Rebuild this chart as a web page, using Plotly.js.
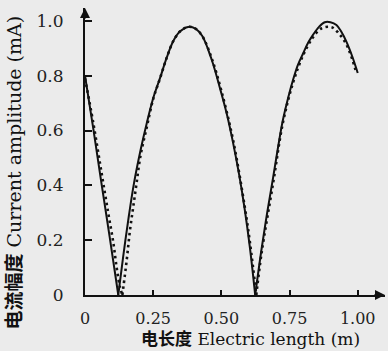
<!DOCTYPE html>
<html>
<head>
<meta charset="utf-8">
<script src="https://cdn.plot.ly/plotly-3.0.1.min.js"></script>
<style>html,body{margin:0;padding:0;background:#ebebeb;}#chart{width:388px;height:351px;}</style>
</head>
<body>
<div id="chart"></div>
<script>
// Solid curve; null separates the arches, which meet at sharp zeros
const solidX = [0, 0.03, 0.06, 0.09, 0.122, null,
  0.122, 0.14, 0.161, 0.18, 0.204, 0.226, 0.25, 0.275, 0.299, 0.323, 0.348, 0.378, 0.405, 0.43, 0.464, 0.50, 0.52, 0.543, 0.565, 0.586, 0.605, 0.624, null,
  0.624, 0.647, 0.668, 0.69, 0.708, 0.726, 0.745, 0.763, 0.78, 0.80, 0.818, 0.836, 0.858, 0.879, 0.90, 0.922, 0.94, 0.958, 0.98, 1.0];
const solidY = [0.80, 0.61, 0.41, 0.215, 0, null,
  0, 0.14, 0.29, 0.41, 0.53, 0.625, 0.718, 0.791, 0.864, 0.925, 0.961, 0.978, 0.972, 0.945, 0.86, 0.736, 0.66, 0.555, 0.44, 0.31, 0.17, 0, null,
  0, 0.165, 0.30, 0.43, 0.54, 0.64, 0.72, 0.785, 0.838, 0.882, 0.92, 0.949, 0.978, 0.995, 0.995, 0.985, 0.96, 0.925, 0.87, 0.81];
// Dotted curve
const dotX = [0, 0.03, 0.06, 0.085, 0.104, 0.116, 0.128, 0.137, null,
  0.137, 0.153, 0.165, 0.177, 0.189, 0.204, 0.226, 0.25, 0.275, 0.299, 0.323, 0.348, 0.378, 0.405, 0.43, 0.464, 0.50, 0.543, 0.586, 0.605, 0.628, null,
  0.628, 0.647, 0.69, 0.726, 0.763, 0.80, 0.836, 0.868, 0.904, 0.93, 0.958, 0.98, 0.995];
const dotY = [0.79, 0.63, 0.45, 0.30, 0.19, 0.10, 0.03, 0, null,
  0, 0.128, 0.237, 0.322, 0.408, 0.511, 0.61, 0.715, 0.79, 0.864, 0.925, 0.961, 0.978, 0.972, 0.945, 0.865, 0.745, 0.565, 0.32, 0.19, 0, null,
  0, 0.15, 0.41, 0.63, 0.775, 0.875, 0.94, 0.973, 0.977, 0.955, 0.915, 0.86, 0.81];
const xTickVals = [0, 0.25, 0.5, 0.75, 1.0];
const xTickText = ["0", "0.25", "0.50", "0.75", "1.00"];
const yTickVals = [0, 0.2, 0.4, 0.6, 0.8, 1.0];
const yTickText = ["0", "0.2", "0.4", "0.6", "0.8", "1.0"];
const xTitle = "<b>电长度</b> Electric length (m)";
const yTitle = "<b>电流幅度</b> Current amplitude (mA)";

const serif = "DejaVu Serif, Noto Sans CJK SC, serif";
const data = [
  {x: solidX, y: solidY, mode: "lines", connectgaps: false, line: {color: "#111", width: 2, shape: "spline", smoothing: 1}, hoverinfo: "none"},
  {x: dotX, y: dotY, mode: "lines", connectgaps: false, line: {color: "#111", width: 2.6, dash: "2.5px,3.5px", shape: "spline", smoothing: 1}, hoverinfo: "none"}
];
const layout = {
  width: 388, height: 351,
  margin: {l: 85, r: 3, t: 8, b: 56},
  paper_bgcolor: "#ebebeb", plot_bgcolor: "#ebebeb",
  showlegend: false,
  font: {family: serif, color: "#111"},
  xaxis: {range: [0, 1.1], showgrid: false, zeroline: false, showline: true, linecolor: "#111", linewidth: 2,
    ticks: "inside", ticklen: 5, tickwidth: 2, tickcolor: "#111",
    tickvals: xTickVals, ticktext: xTickText, tickfont: {family: serif, size: 16, color: "#222"}, ticklabelstandoff: 8},
  yaxis: {range: [0, 1.047], showgrid: false, zeroline: false, showline: true, linecolor: "#111", linewidth: 2,
    ticks: "inside", ticklen: 7, tickwidth: 2, tickcolor: "#111",
    tickvals: yTickVals, ticktext: yTickText, tickfont: {family: serif, size: 17, color: "#222"}, ticklabelstandoff: 16},
  annotations: [
    {xref: "paper", yref: "paper", x: 1, y: 0, ax: -12, ay: 0, text: "", showarrow: true, arrowhead: 2, arrowsize: 1, arrowwidth: 2, arrowcolor: "#111"},
    {xref: "paper", yref: "paper", x: 0, y: 1, ax: 0, ay: 12, text: "", showarrow: true, arrowhead: 2, arrowsize: 1, arrowwidth: 2, arrowcolor: "#111"},
    {xref: "paper", yref: "paper", x: 0.55, y: -0.152, xanchor: "center", yanchor: "middle", showarrow: false, text: xTitle, font: {family: serif, size: 17, color: "#111"}},
    {xref: "paper", yref: "paper", x: -0.235, y: 0.425, xanchor: "center", yanchor: "middle", showarrow: false, textangle: -90, text: yTitle, font: {family: serif, size: 19, color: "#111"}}
  ]
};
Plotly.newPlot("chart", data, layout, {staticPlot: true, displayModeBar: false});
</script>
</body>
</html>
